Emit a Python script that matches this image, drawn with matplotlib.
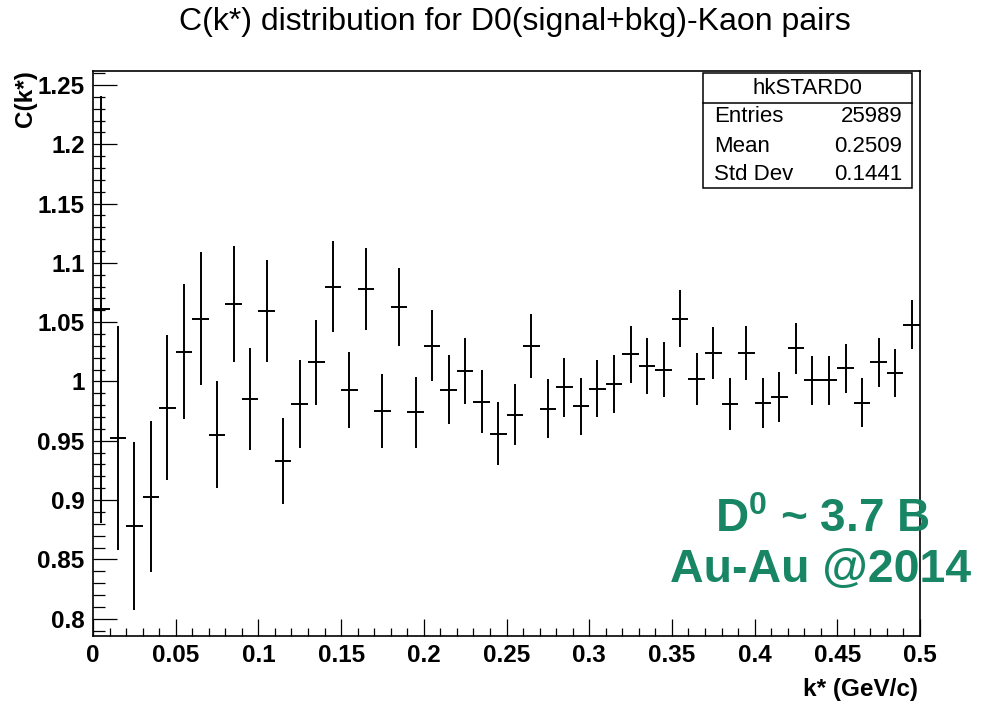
import numpy as np
import matplotlib
matplotlib.use("Agg")
from matplotlib import pyplot as plt
from matplotlib.patches import Rectangle
from matplotlib.ticker import MultipleLocator

plt.rcParams["font.family"] = ["Liberation Sans", "DejaVu Sans"]
plt.rcParams["mathtext.fontset"] = "custom"
plt.rcParams["mathtext.rm"] = "Liberation Sans"
plt.rcParams["mathtext.bf"] = "Liberation Sans:bold"

# hkSTARD0: C(k*) for D0-kaon pairs, 50 bins over 0 < k* < 0.5 GeV/c
k_min, k_max, n_bins = 0.0, 0.5, 50
ck_values = [
    1.061, 0.952, 0.878, 0.903, 0.978, 1.025, 1.053, 0.955, 1.065, 0.985,
    1.059, 0.933, 0.981, 1.016, 1.080, 0.993, 1.078, 0.975, 1.063, 0.974,
    1.030, 0.993, 1.009, 0.983, 0.956, 0.972, 1.030, 0.977, 0.995, 0.979,
    0.994, 0.998, 1.023, 1.013, 1.010, 1.053, 1.002, 1.024, 0.981, 1.024,
    0.982, 0.987, 1.028, 1.001, 1.001, 1.011, 0.982, 1.016, 1.007, 1.048,
]
ck_errors = [
    0.180, 0.0945, 0.071, 0.064, 0.061, 0.057, 0.056, 0.045, 0.049, 0.043,
    0.043, 0.0365, 0.037, 0.036, 0.038, 0.032, 0.0345, 0.031, 0.033, 0.030,
    0.030, 0.029, 0.028, 0.0265, 0.0265, 0.0256, 0.0267, 0.025, 0.0247, 0.024,
    0.024, 0.0245, 0.024, 0.0236, 0.023, 0.024, 0.022, 0.022, 0.022, 0.0225,
    0.021, 0.021, 0.0214, 0.0205, 0.0205, 0.0208, 0.0208, 0.021, 0.020, 0.021,
]
stats_rows = [("Entries", "25989"), ("Mean", "0.2509"), ("Std Dev", "0.1441")]

W, H = 981, 704


def fx(px):
    return px / W


def fy(py):
    return 1 - py / H


fig = plt.figure(figsize=(W / 100, H / 100), dpi=100)
fig.patch.set_facecolor("white")
ax = fig.add_axes([fx(93), fy(636), fx(920) - fx(93), fy(70.7) - fy(636)])

edges = np.linspace(k_min, k_max, n_bins + 1)
centers = 0.5 * (edges[:-1] + edges[1:])
half_w = 0.5 * np.diff(edges)
ax.errorbar(centers, ck_values, yerr=ck_errors, xerr=half_w, fmt="none",
            ecolor="black", elinewidth=1.4, capsize=0)

ax.set_xlim(k_min, k_max)
ax.set_ylim(0.7854, 1.262)
ax.xaxis.set_major_locator(MultipleLocator(0.05))
ax.xaxis.set_minor_locator(MultipleLocator(0.01))
ax.yaxis.set_major_locator(MultipleLocator(0.05))
ax.yaxis.set_minor_locator(MultipleLocator(0.01))
ax.xaxis.set_major_formatter(plt.FuncFormatter(lambda v, p: f"{v:g}"))
ax.yaxis.set_major_formatter(plt.FuncFormatter(lambda v, p: f"{v:g}"))

for s in ax.spines.values():
    s.set_linewidth(1.2)
ax.tick_params(axis="both", which="both", direction="in", width=0.9,
               top=False, right=False, labelsize=17.5)
ax.tick_params(axis="y", which="major", length=17, pad=6)
ax.tick_params(axis="y", which="minor", length=8.5)
ax.tick_params(axis="x", which="major", length=12, pad=6)
ax.tick_params(axis="x", which="minor", length=6)
for lab in ax.get_xticklabels() + ax.get_yticklabels():
    lab.set_fontweight("bold")

# titles
fig.text(fx(515), fy(30), "C(k*) distribution for D0(signal+bkg)-Kaon pairs",
         ha="center", va="baseline", fontsize=23)
fig.text(fx(26), fy(70), "C(k*)", rotation=90, ha="center", va="top",
         fontsize=17.5, fontweight="bold")
fig.text(fx(918), fy(696), "k* (GeV/c)", ha="right", va="baseline",
         fontsize=17.5, fontweight="bold")

# stats box
box_l, box_r, box_t, box_b, head_b = 703.3, 911.7, 73.3, 188, 102.7
fig.add_artist(Rectangle((fx(box_l), fy(box_b)), fx(box_r) - fx(box_l),
                         fy(box_t) - fy(box_b), transform=fig.transFigure,
                         facecolor="white", edgecolor="black", lw=1.1))
fig.add_artist(plt.Line2D([fx(box_l), fx(box_r)], [fy(head_b), fy(head_b)],
                          transform=fig.transFigure, color="black", lw=1.1))
fig.text(fx((box_l + box_r) / 2), fy(88), "hkSTARD0", ha="center",
         va="center", fontsize=16)
for (name, val), yc in zip(stats_rows, [117, 146, 174]):
    fig.text(fx(714), fy(yc), name, ha="left", va="center", fontsize=16)
    fig.text(fx(902), fy(yc), val, ha="right", va="center", fontsize=16)

# dataset annotation
green = "#188664"
fig.text(fx(822), fy(532), r"D$^{\mathbf{0}}$ ~ 3.7 B", ha="center",
         va="baseline", fontsize=33, fontweight="bold", color=green)
fig.text(fx(821), fy(582), "Au-Au @2014", ha="center", va="baseline",
         fontsize=33.5, fontweight="bold", color=green)

fig.savefig("out.png", dpi=100)
